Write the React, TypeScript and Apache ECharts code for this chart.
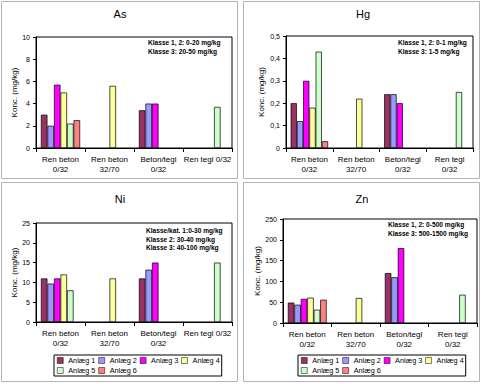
import React, { useEffect, useRef } from "react";
import * as echarts from "echarts";

const seriesNames = ["Anlæg 1", "Anlæg 2", "Anlæg 3", "Anlæg 4", "Anlæg 5", "Anlæg 6"];
const seriesColors = ["#993366", "#9999FF", "#FF00FF", "#FFFF99", "#CCFFCC", "#FF8080"];

const categoriesOneLine = ["Ren beton\n0/32", "Ren beton\n32/70", "Beton/tegl\n0/32", "Ren tegl 0/32"];
const categoriesWrapped = ["Ren beton\n0/32", "Ren beton\n32/70", "Beton/tegl\n0/32", "Ren tegl\n0/32"];

const panelTitles = ["As", "Hg", "Ni", "Zn"];
const yAxisName = "Konc. (mg/kg)";

// values per series (Anlæg 1..6) across the four categories
const asValues = [
  [3.0, null, 3.4, null],
  [2.0, null, 4.0, null],
  [5.7, null, 4.0, null],
  [5.0, 5.6, null, null],
  [2.2, null, null, 3.7],
  [2.5, null, null, null],
];
const hgValues = [
  [0.2, null, 0.24, null],
  [0.12, null, 0.24, null],
  [0.3, null, 0.2, null],
  [0.18, 0.22, null, null],
  [0.43, null, null, 0.25],
  [0.03, null, null, null],
];
const niValues = [
  [11, null, 11, null],
  [9.7, null, 13.2, null],
  [11, null, 15, null],
  [12, 11, null, null],
  [8, null, null, 15],
  [null, null, null, null],
];
const znValues = [
  [49, null, 120, null],
  [44, null, 110, null],
  [58, null, 180, null],
  [61, 60, null, null],
  [32, null, null, 68],
  [56, null, null, null],
];

const asAxisMax = 10;
const asAxisStep = 2;
const hgAxisMax = 0.5;
const hgAxisStep = 0.1;
const niAxisMax = 25;
const niAxisStep = 5;
const znAxisMax = 250;
const znAxisStep = 50;

const asNotes = ["Klasse 1, 2: 0-20 mg/kg", "Klasse 3: 20-50 mg/kg"];
const hgNotes = ["Klasse 1, 2: 0-1 mg/kg", "Klasse 3: 1-5 mg/kg"];
const niNotes = ["Klasse/kat. 1:0-30 mg/kg", "Klasse 2: 30-40 mg/kg", "Klasse 3: 40-100 mg/kg"];
const znNotes = ["Klasse 1, 2: 0-500 mg/kg", "Klasse 3: 500-1500 mg/kg"];

const FONT = '"Liberation Sans", Arial, sans-serif';

const panels = [
  {
    grid: { left: 36, top: 37, width: 196, height: 111 },
    nameGap: 18, titleX: 120, titleY: 8, noteX: 148, noteY: 42, noteStep: 9.4,
    cats: categoriesOneLine, values: asValues, max: asAxisMax, step: asAxisStep, dec: 0, notes: asNotes,
  },
  {
    grid: { left: 286, top: 36, width: 187, height: 112 },
    nameGap: 21, titleX: 363, titleY: 8, noteX: 398, noteY: 42, noteStep: 9.6,
    cats: categoriesWrapped, values: hgValues, max: hgAxisMax, step: hgAxisStep, dec: 1, notes: hgNotes,
  },
  {
    grid: { left: 36, top: 223, width: 196, height: 99 },
    nameGap: 18, titleX: 120, titleY: 193, noteX: 146, noteY: 230.7, noteStep: 8.6,
    cats: categoriesOneLine, values: niValues, max: niAxisMax, step: niAxisStep, dec: 0, notes: niNotes,
  },
  {
    grid: { left: 283, top: 219, width: 194, height: 104 },
    nameGap: 21, titleX: 362, titleY: 193, noteX: 388, noteY: 224.3, noteStep: 9,
    cats: categoriesWrapped, values: znValues, max: znAxisMax, step: znAxisStep, dec: 0, notes: znNotes,
  },
];

export default function App() {
  const ref = useRef<HTMLDivElement>(null);
  useEffect(() => {
    if (!ref.current) return;
    const chart = echarts.init(ref.current, undefined, { renderer: "svg" });

    const graphics: any[] = [
      { type: "rect", shape: { x: 1.5, y: 1.5, width: 236, height: 177 }, style: { fill: "none", stroke: "#b4b4b4", lineWidth: 1 }, silent: true },
      { type: "rect", shape: { x: 243.5, y: 1.5, width: 236, height: 177 }, style: { fill: "none", stroke: "#b4b4b4", lineWidth: 1 }, silent: true },
      { type: "rect", shape: { x: 1.5, y: 182.5, width: 236, height: 199 }, style: { fill: "none", stroke: "#b4b4b4", lineWidth: 1 }, silent: true },
      { type: "rect", shape: { x: 243.5, y: 182.5, width: 236, height: 199 }, style: { fill: "none", stroke: "#b4b4b4", lineWidth: 1 }, silent: true },
    ];
    panels.forEach((p) => {
      p.notes.forEach((t, i) => {
        graphics.push({
          type: "text",
          x: p.noteX,
          y: p.noteY + i * p.noteStep,
          silent: true,
          style: { text: t, fontSize: 6.6, fontWeight: "bold", fontFamily: FONT, fill: "#000", align: "left", verticalAlign: "middle" },
        });
      });
    });

    const option: any = {
      animation: false,
      backgroundColor: "#fff",
      textStyle: { fontFamily: FONT },
      title: panels.map((p, i) => ({
        text: panelTitles[i],
        left: p.titleX,
        top: p.titleY,
        textAlign: "center",
        padding: 0,
        textStyle: { fontSize: 11, fontWeight: "normal", color: "#000", fontFamily: FONT },
      })),
      grid: panels.map((p) => ({
        ...p.grid,
        show: true,
        borderColor: "#000",
        borderWidth: 1,
        backgroundColor: "transparent",
        containLabel: false,
      })),
      xAxis: panels.map((p, i) => ({
        gridIndex: i,
        type: "category",
        data: p.cats,
        axisLine: { lineStyle: { color: "#000", width: 1 } },
        axisTick: { show: true, length: 4, lineStyle: { color: "#000" } },
        axisLabel: { fontSize: 8, color: "#000", fontFamily: FONT, margin: 6, lineHeight: 10, interval: 0 },
      })),
      yAxis: panels.map((p, i) => ({
        gridIndex: i,
        type: "value",
        min: 0,
        max: p.max,
        interval: p.step,
        name: yAxisName,
        nameLocation: "middle",
        nameGap: p.nameGap,
        nameTextStyle: { fontSize: 8, color: "#000", fontFamily: FONT },
        axisLine: { show: true, lineStyle: { color: "#000", width: 1 } },
        axisTick: { show: true, length: 3, lineStyle: { color: "#000" } },
        axisLabel: {
          fontSize: 7,
          color: "#000",
          fontFamily: FONT,
          margin: 6,
          formatter: (v: number) => (p.dec ? (+v.toFixed(p.dec)).toString().replace(".", ",") : String(v)),
        },
        splitLine: { show: false },
      })),
      legend: [54, 298].map((x) => ({
        data: seriesNames,
        left: x,
        top: 355,
        width: 166,
        orient: "horizontal",
        icon: "rect",
        itemWidth: 6,
        itemHeight: 6,
        itemGap: 3,
        padding: [2, 2, 2, 3],
        borderColor: "#000",
        borderWidth: 1,
        selectedMode: false,
        itemStyle: { borderColor: "#000", borderWidth: 0.5 },
        textStyle: { fontSize: 7.3, color: "#000", fontFamily: FONT },
      })),
      graphic: graphics,
      series: panels.flatMap((p, gi) =>
        p.values.map((vals, si) => ({
          type: "bar",
          name: seriesNames[si],
          xAxisIndex: gi,
          yAxisIndex: gi,
          data: vals.map((v) => (v === null ? "-" : v)),
          barGap: "0%",
          barCategoryGap: "20%",
          itemStyle: { color: seriesColors[si], borderColor: "#000", borderWidth: 0.7 },
        }))
      ),
    };
    chart.setOption(option);
    return () => chart.dispose();
  }, []);
  return (
    <div
      ref={ref}
      style={{ position: "fixed", left: 0, top: 0, width: 482, height: 384, background: "#fff" }}
    />
  );
}
